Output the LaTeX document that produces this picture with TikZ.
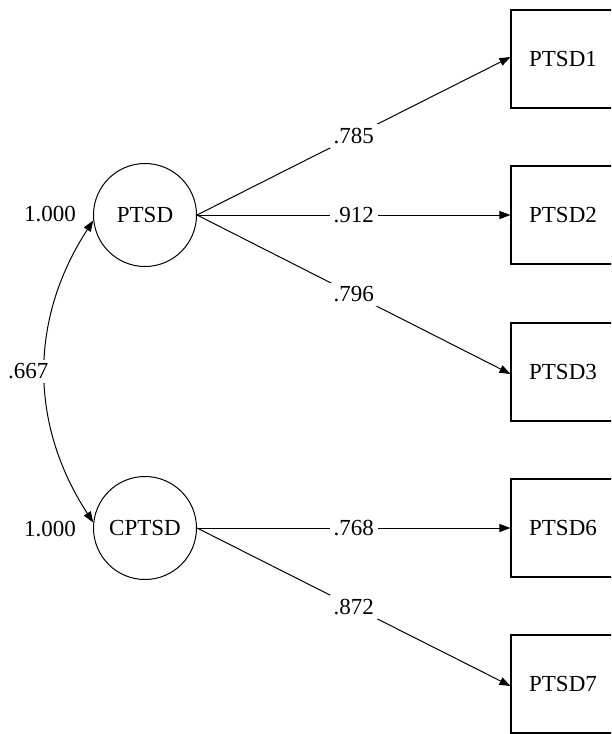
\documentclass[tikz,border=0pt]{standalone}
\usepackage{fontspec}
\setmainfont{Liberation Serif}
\usetikzlibrary{arrows.meta}

\tikzset{
    latent/.style={draw, circle, minimum size=103pt, inner sep=0pt, line width=1pt},
    observed/.style={draw, rectangle, minimum width=104pt, minimum height=98pt, inner sep=0pt, line width=1.1pt},
    weight/.style={fill=white, inner sep=4pt},
    path/.style={line width=1pt, -{Triangle[length=11pt,width=8pt]}},
    cov/.style={line width=1pt, {Triangle[length=11pt,width=8pt]}-{Triangle[length=11pt,width=8pt]}}
}

\begin{document}
\begin{tikzpicture}[x=1pt, y=-1pt, font=\fontsize{23}{27}\selectfont]

    % clip the drawing
    \clip (0,0) rectangle (611,734);

    %%%%%%%%%%%%%%%%%%%%%%%%%%
    % Latent factors
    %%%%%%%%%%%%%%%%%%%%%%%%%%
    \node [latent] (ptsd) at (145,215) {PTSD};
    \node [latent] (cptsd) at (145,528) {CPTSD};

    % variances
    \node [anchor=east, inner sep=2pt] (varptsd) at ([xshift=-15pt,yshift=1pt]ptsd.west) {1.000};
    \node [anchor=east, inner sep=2pt] (varcptsd) at ([xshift=-15pt,yshift=-1pt]cptsd.west) {1.000};

    %%%%%%%%%%%%%%%%%%%%%%%%%%
    % Indicators
    %%%%%%%%%%%%%%%%%%%%%%%%%%
    \node [observed] (ptsd1) at (563,59) {PTSD1};
    \node [observed] (ptsd2) at (563,215) {PTSD2};
    \node [observed] (ptsd3) at (563,372) {PTSD3};
    \node [observed] (ptsd6) at (563,528) {PTSD6};
    \node [observed] (ptsd7) at (563,684) {PTSD7};

    %%%%%%%%%%%%%%%%%%%%%%%%%%
    % Loadings
    %%%%%%%%%%%%%%%%%%%%%%%%%%
    \draw [path] (ptsd.east) -- node [weight] {.785} ([yshift=2pt]ptsd1.west);
    \draw [path] (ptsd.east) -- node [weight] {.912} (ptsd2.west);
    \draw [path] (ptsd.east) -- node [weight] {.796} ([yshift=-2pt]ptsd3.west);
    \draw [path] (cptsd.east) -- node [weight] {.768} (ptsd6.west);
    \draw [path] (cptsd.east) -- node [weight] {.872} ([yshift=-2pt]ptsd7.west);

    % correlation
    \draw [cov] (ptsd.186) to [bend right=33] node [weight, xshift=-17pt] {.667} (cptsd.174);

\end{tikzpicture}
\end{document}
